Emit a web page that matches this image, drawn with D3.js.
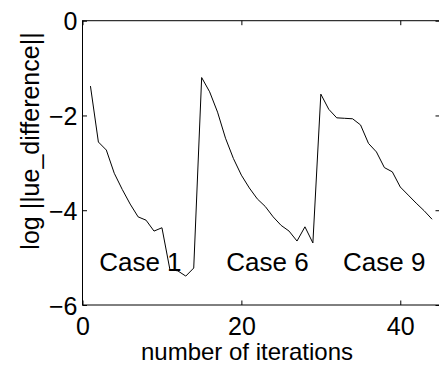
<!DOCTYPE html>
<html>
<head>
<meta charset="utf-8">
<script src="https://cdn.jsdelivr.net/npm/d3@7"></script>
<style>
  html, body { margin: 0; padding: 0; background: #fff; }
  svg { display: block; }
  text { font-family: "Liberation Sans", Arial, Helvetica, sans-serif; fill: #000; }
</style>
</head>
<body>
<svg id="chart" width="439" height="365"></svg>
<script>
// Convergence history: log-norm of the ue difference per iteration
const iterations = d3.range(1, 45);
const logDiff = [
  -1.38, -2.56, -2.73, -3.22, -3.56, -3.87, -4.14, -4.21, -4.44, -4.37,
  -5.25, -5.28, -5.39, -5.22,
  -1.20, -1.50, -1.93, -2.48, -2.91, -3.26, -3.53, -3.76, -3.92, -4.14,
  -4.32, -4.44, -4.65, -4.35, -4.69,
  -1.55, -1.87, -2.05, -2.06, -2.07, -2.20, -2.59, -2.77, -3.10, -3.19,
  -3.51, -3.68, -3.85, -4.01, -4.19
];
const xTicks = [0, 20, 40];
const yTicks = [-6, -4, -2, 0];
const caseNames = ["Case 1", "Case 6", "Case 9"];
const caseX = [2.1, 18.1, 32.8];   // left edge of each label, in iterations
const caseY = -5.28;               // label baseline, in log units

const svg = d3.select("#chart");
const plotLeft = 82.5, plotRight = 440, plotTop = 20.7, plotBottom = 305;

const x = d3.scaleLinear().domain([0, 45]).range([plotLeft, plotRight]);
const y = d3.scaleLinear().domain([-6, 0]).range([plotBottom, plotTop]);

const tickLen = 4.5;
const fs = 25;

// Box frame
svg.append("rect")
  .attr("x", plotLeft).attr("y", plotTop)
  .attr("width", plotRight - plotLeft).attr("height", plotBottom - plotTop)
  .attr("fill", "none").attr("stroke", "#000").attr("stroke-width", 1);

// Bottom axis (ticks inward) and mirrored top ticks
const xAxis = d3.axisBottom(x).tickValues(xTicks).tickSize(-tickLen).tickFormat(d3.format("d"));
const gx = svg.append("g").attr("transform", `translate(0,${plotBottom})`).call(xAxis);
gx.select(".domain").remove();
gx.selectAll("line").attr("stroke", "#000");
gx.selectAll("text").attr("font-size", fs).attr("font-family", null).attr("dy", null).attr("y", 29.5);

const gxTop = svg.append("g").attr("transform", `translate(0,${plotTop})`)
  .call(d3.axisTop(x).tickValues(xTicks).tickSize(-tickLen).tickFormat(""));
gxTop.select(".domain").remove();
gxTop.selectAll("line").attr("stroke", "#000");

// Left axis and mirrored right ticks
const yAxis = d3.axisLeft(y).tickValues(yTicks).tickSize(-tickLen).tickFormat(d3.format("d"));
const gy = svg.append("g").attr("transform", `translate(${plotLeft},0)`).call(yAxis);
gy.select(".domain").remove();
gy.selectAll("line").attr("stroke", "#000");
gy.selectAll("text").attr("font-size", fs).attr("font-family", null).attr("x", -5).attr("dy", "0.36em");

const gyRight = svg.append("g").attr("transform", `translate(${plotRight},0)`)
  .call(d3.axisRight(y).tickValues(yTicks).tickSize(-tickLen).tickFormat(""));
gyRight.select(".domain").remove();
gyRight.selectAll("line").attr("stroke", "#000");

// Series line
const line = d3.line()
  .x((d, i) => x(iterations[i]))
  .y(d => y(d));
svg.append("path")
  .datum(logDiff)
  .attr("fill", "none")
  .attr("stroke", "#000")
  .attr("stroke-width", 1)
  .attr("d", line);

// Case annotations
svg.append("g").selectAll("text")
  .data(caseNames)
  .join("text")
  .attr("x", (d, i) => x(caseX[i]))
  .attr("y", y(caseY))
  .attr("font-size", fs + 1)
  .text(d => d);

// Axis titles
svg.append("text")
  .attr("x", 247)
  .attr("y", 360)
  .attr("text-anchor", "middle")
  .attr("font-size", 24)
  .text("number of iterations");

svg.append("text")
  .attr("transform", "translate(39,141) rotate(-90)")
  .attr("text-anchor", "middle")
  .attr("font-size", fs)
  .text("log ||ue_difference||");
</script>
</body>
</html>
